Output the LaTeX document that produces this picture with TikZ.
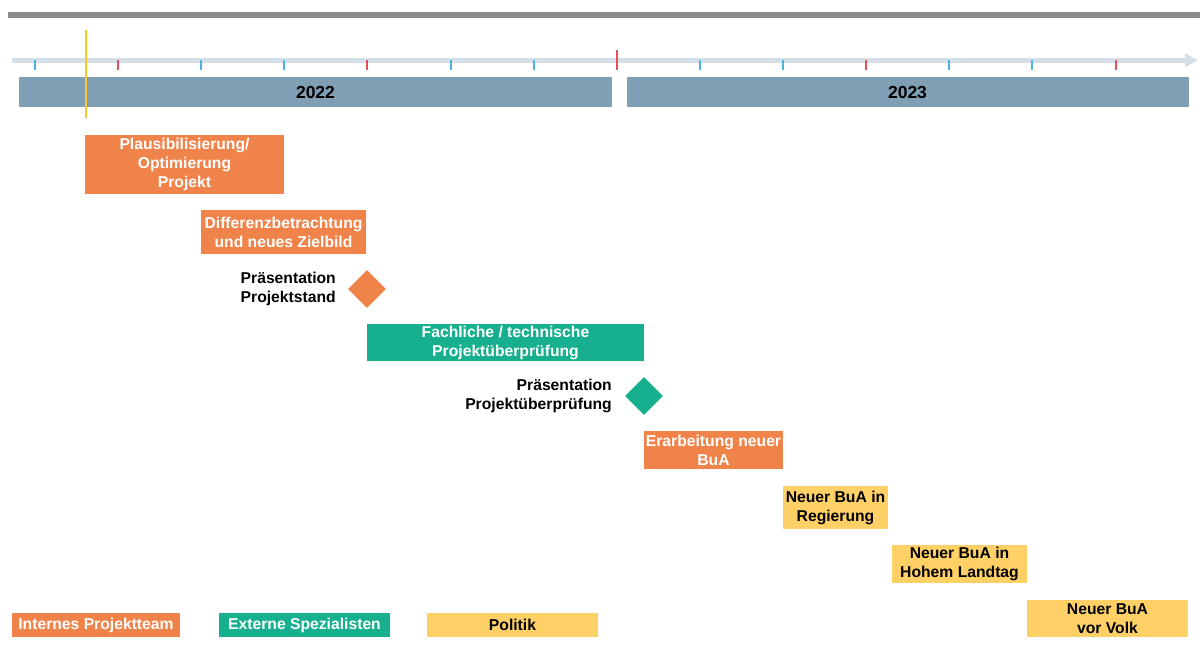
\documentclass[tikz,border=0pt]{standalone}
\usepackage{fontspec}
\setmainfont{Liberation Sans}
\usetikzlibrary{arrows.meta,shapes.geometric}
\definecolor{orangeC}{HTML}{F0834A}
\definecolor{greenC}{HTML}{17B08E}
\definecolor{yellowC}{HTML}{FED065}
\definecolor{yearC}{HTML}{809FB5}
\definecolor{axisC}{HTML}{D3DEE6}
\definecolor{tickB}{HTML}{4BB4E0}
\definecolor{tickR}{HTML}{E8515A}
\definecolor{topgray}{HTML}{8C8C8C}
\definecolor{lineY}{HTML}{FFC62A}
\begin{document}
\begin{tikzpicture}[x=1pt,y=-1pt,
  txt/.style={font=\bfseries\fontsize{15.7}{19}\selectfont},
  box/.style={rectangle, inner sep=0pt, align=center, txt},
  obox/.style={box, fill=orangeC, text=white},
  gbox/.style={box, fill=greenC, text=white},
  ybox/.style={box, fill=yellowC, text=black},
  yearbar/.style={rectangle, inner sep=0pt, fill=yearC, minimum height=29pt, font=\bfseries\fontsize{17.5}{20}\selectfont},
  mstone/.style={diamond, inner sep=0pt, minimum width=38pt, minimum height=38pt},
  lbl/.style={txt, align=right, inner sep=0pt, anchor=east},
  tickstyle/.style={line width=1.8pt}
]
\useasboundingbox (0,0) rectangle (1200,661);
% top bar
\fill[topgray] (8,12.5) rectangle (1200,18.5);
% axis
\draw[axisC, line width=4.5pt, -{Triangle[length=13pt,width=13pt]}] (12,60.3) -- (1198,60.3);
\foreach \tx in {35,201,284,451,534,700,783,949,1032}
  \draw[tickB, tickstyle] (\tx,60) -- (\tx,70);
\foreach \tx in {118,367,866,1116}
  \draw[tickR, tickstyle] (\tx,60) -- (\tx,70);
\draw[tickR, line width=2.2pt] (617,50) -- (617,70);
% year bars
\node[yearbar, minimum width=593pt] (y2022) at (315.5,92) {2022};
\node[yearbar, minimum width=562pt] (y2023) at (907.5,92) {2023};
% today line
\draw[lineY, line width=1.8pt] (86,30) -- (86,118);
% tasks
\node[obox, minimum width=199pt, minimum height=59pt] (plaus) at (184.5,164.5) {Plausibilisierung/\\Optimierung\\Projekt};
\node[obox, minimum width=165pt, minimum height=44pt] (diff) at (283.5,232) {Differenzbetrachtung\\und neues Zielbild};
\node[mstone, fill=orangeC] (ms1) at (367,289) {};
\node[lbl] (ms1l) at (336,289) {Präsentation\\Projektstand};
\node[gbox, minimum width=277pt, minimum height=37pt] (fach) at (505.5,342.5) {Fachliche / technische\\Projektüberprüfung};
\node[mstone, fill=greenC] (ms2) at (644,396) {};
\node[lbl] (ms2l) at (612,396) {Präsentation\\Projektüberprüfung};
\node[obox, minimum width=139pt, minimum height=38pt] (erar) at (713.5,450) {Erarbeitung neuer\\BuA};
\node[ybox, minimum width=105pt, minimum height=43pt] (reg) at (835.5,507.5) {Neuer BuA in\\Regierung};
\node[ybox, minimum width=135pt, minimum height=38pt] (land) at (959.5,564) {Neuer BuA in\\Hohem Landtag};
\node[ybox, minimum width=161pt, minimum height=37pt] (volk) at (1107.5,618.5) {Neuer BuA\\vor Volk};
% legend
\node[obox, minimum width=168pt, minimum height=24pt] (leg1) at (96,625) {Internes Projektteam};
\node[gbox, minimum width=171pt, minimum height=24pt] (leg2) at (304.5,625) {Externe Spezialisten};
\node[ybox, minimum width=171pt, minimum height=24pt] (leg3) at (512.5,625) {Politik};
\end{tikzpicture}
\end{document}
